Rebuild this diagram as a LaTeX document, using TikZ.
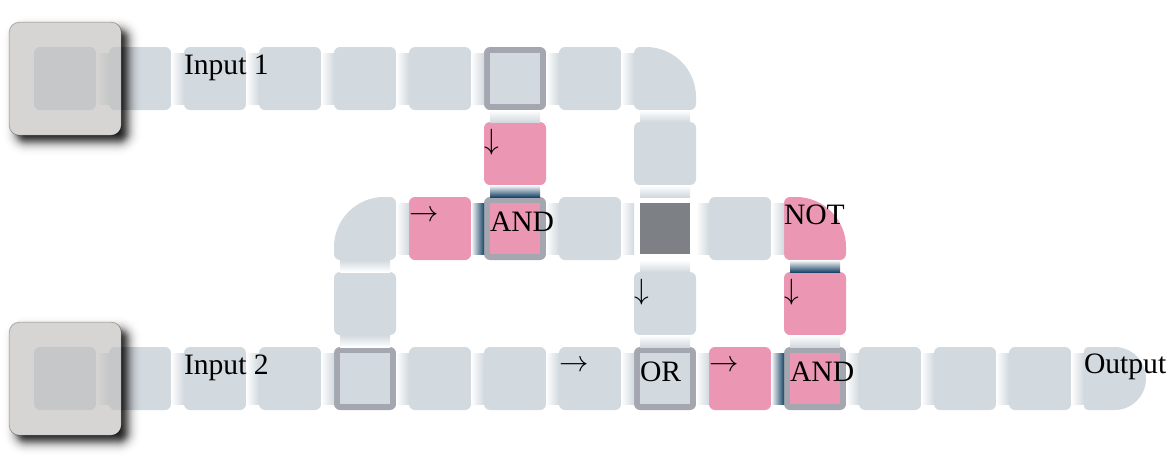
\documentclass[tikz,border=0pt]{standalone}
\usepackage{fontspec}
\usepackage{graphicx}
\setmainfont{Liberation Serif}
\usetikzlibrary{calc}
\definecolor{cellc}{RGB}{210,217,223}
\definecolor{pinkc}{RGB}{235,151,180}
\definecolor{ringc}{RGB}{164,167,175}
\definecolor{crossc}{RGB}{125,128,132}
\definecolor{navyc}{RGB}{26,70,105}
\definecolor{keyc}{RGB}{190,188,186}
\definecolor{keyedge}{RGB}{176,172,166}
\tikzset{
  slot/.style={rectangle,anchor=north west,inner sep=0pt,outer sep=0pt,minimum width=62pt,minimum height=63pt},
  plain/.style={slot,rounded corners=6pt,fill=cellc},
  pink/.style={slot,rounded corners=6pt,fill=pinkc},
  ring/.style={slot,rounded corners=6pt,fill=ringc},
  keycap/.style={rectangle,anchor=north west,inner sep=0pt,outer sep=0pt,minimum width=112pt,minimum height=113pt,rounded corners=10pt,draw=keyedge,line width=.8pt,fill=keyc,fill opacity=.62},
  lab/.style={anchor=base west,inner sep=0pt,outer sep=0pt,font=\fontsize{29.6}{34}\selectfont,text=black},
  arrowlab/.style={anchor=base west,inner sep=0pt,outer sep=0pt,font=\fontsize{24.88}{30}\selectfont,text=black}
}
\newcommand\linkR[3]{\shade[left color=white,right color=#3] ($(#1.east)+(0,-25.5)$) rectangle ($(#2.west)+(0,25.5)$);}
\newcommand\linkD[3]{\shade[top color=white,bottom color=#3] ($(#1.south)+(-25,0)$) rectangle ($(#2.north)+(25,0)$);}
\newcommand\linkU[3]{\shade[bottom color=white,top color=#3] ($(#1.north)+(-25,0)$) rectangle ($(#2.south)+(25,0)$);}
\newcommand\innerfill[2]{\fill[#2] ($(#1.north west)+(6,6)$) rectangle ($(#1.south east)+(-6,-6)$);}
\newcommand\keyshadow[1]{%
  \begin{scope}[even odd rule,rounded corners=10pt]
    \clip (0,0) rectangle (1176,456) (#1.north west) rectangle (#1.south east);
    \foreach \d in {14,13,...,-14}{%
      \pgfmathsetmacro\Ta{0.92/(1+exp(\d/3.2))}
      \pgfmathsetmacro\Tb{0.92/(1+exp((\d+1)/3.2))}
      \pgfmathsetmacro\al{1-(1-\Ta)/(1-\Tb)}
      \pgfmathsetmacro\rr{max(2,10+\d)}
      \fill[black,nonzero rule,fill opacity=\al,rounded corners=\rr pt] ($(#1.north west)+(7-\d,7-\d)$) rectangle ($(#1.south east)+(7+\d,7+\d)$);
    }
  \end{scope}}
\begin{document}
\begin{tikzpicture}[x=1pt,y=-1pt]
\useasboundingbox (0,0) rectangle (1176,456);
% cells
\foreach \c/\r/\s in {0/0/plain,1/0/plain,2/0/plain,3/0/plain,4/0/plain,5/0/plain,6/0/ring,7/0/plain,8/0/slot,
  6/1/pink,8/1/plain,
  4/2/slot,5/2/pink,6/2/ring,7/2/plain,8/2/slot,9/2/plain,10/2/slot,
  4/3/plain,8/3/plain,10/3/pink,
  0/4/plain,1/4/plain,2/4/plain,3/4/plain,4/4/ring,5/4/plain,6/4/plain,7/4/plain,8/4/ring,9/4/pink,10/4/ring,11/4/plain,12/4/plain,13/4/plain,14/4/slot}
  {\node[\s] (c\c-\r) at ({34+75*\c},{47+75*\r}) {};}
% shaped cells
\fill[cellc] ($(c8-0.north west)+(0,6)$) .. controls +(0,-3.3) and +(-3.3,0) .. ($(c8-0.north west)+(6,0)$) -- ($(c8-0.north east)+(-50,0)$) .. controls +(27.6,0) and ($(c8-0.north east)+(0,22.4)$) .. ($(c8-0.north east)+(0,50)$) -- ($(c8-0.south east)+(0,-6)$) .. controls +(0,3.3) and +(3.3,0) .. ($(c8-0.south east)+(-6,0)$) -- ($(c8-0.south west)+(6,0)$) .. controls +(-3.3,0) and +(0,3.3) .. ($(c8-0.south west)+(0,-6)$) -- cycle;
\fill[cellc] ($(c4-2.north east)+(-6,0)$) .. controls +(3.3,0) and +(0,-3.3) .. ($(c4-2.north east)+(0,6)$) -- ($(c4-2.south east)+(0,-6)$) .. controls +(0,3.3) and +(3.3,0) .. ($(c4-2.south east)+(-6,0)$) -- ($(c4-2.south west)+(6,0)$) .. controls +(-3.3,0) and +(0,3.3) .. ($(c4-2.south west)+(0,-6)$) -- ($(c4-2.north west)+(0,50)$) .. controls +(0,-27.6) and ($(c4-2.north west)+(22.4,0)$) .. ($(c4-2.north west)+(50,0)$) -- cycle;
\fill[pinkc] ($(c10-2.north west)+(0,6)$) .. controls +(0,-3.3) and +(-3.3,0) .. ($(c10-2.north west)+(6,0)$) -- ($(c10-2.north east)+(-50,0)$) .. controls +(27.6,0) and ($(c10-2.north east)+(0,22.4)$) .. ($(c10-2.north east)+(0,50)$) -- ($(c10-2.south east)+(0,-6)$) .. controls +(0,3.3) and +(3.3,0) .. ($(c10-2.south east)+(-6,0)$) -- ($(c10-2.south west)+(6,0)$) .. controls +(-3.3,0) and +(0,3.3) .. ($(c10-2.south west)+(0,-6)$) -- cycle;
\fill[cellc] ($(c14-4.north west)+(0,4)$) .. controls +(0,-2.2) and +(-2.2,0) .. ($(c14-4.north west)+(4,0)$) -- ($(c14-4.north east)+(-31.5,0)$) .. controls +(17.4,0) and ($(c14-4.east)+(0,-17.4)$) .. (c14-4.east) .. controls ($(c14-4.east)+(0,17.4)$) and ($(c14-4.south east)+(-14.1,0)$) .. ($(c14-4.south east)+(-31.5,0)$) -- ($(c14-4.south west)+(4,0)$) .. controls +(-2.2,0) and +(0,2.2) .. ($(c14-4.south west)+(0,-4)$) -- cycle;
% ring interiors and crossing
\innerfill{c6-0}{cellc}
\innerfill{c6-2}{pinkc}
\innerfill{c4-4}{cellc}
\innerfill{c8-4}{cellc}
\innerfill{c10-4}{pinkc}
\innerfill{c8-2}{crossc}
% connectors
\foreach \a/\b in {0/1,1/2,2/3,3/4,4/5,5/6,6/7,7/8}{\linkR{c\a-0}{c\b-0}{cellc}}
\foreach \a/\b in {4/5,6/7,7/8,8/9,9/10}{\linkR{c\a-2}{c\b-2}{cellc}}
\linkR{c5-2}{c6-2}{navyc}
\foreach \a/\b in {0/1,1/2,2/3,3/4,4/5,5/6,6/7,7/8,8/9,10/11,11/12,12/13,13/14}{\linkR{c\a-4}{c\b-4}{cellc}}
\linkR{c9-4}{c10-4}{navyc}
\linkD{c6-0}{c6-1}{cellc}
\linkD{c6-1}{c6-2}{navyc}
\linkD{c8-0}{c8-1}{cellc}
\linkD{c8-1}{c8-2}{cellc}
\linkD{c8-2}{c8-3}{cellc}
\linkD{c8-3}{c8-4}{cellc}
\linkD{c10-2}{c10-3}{navyc}
\linkD{c10-3}{c10-4}{cellc}
\linkU{c4-3}{c4-2}{cellc}
\linkU{c4-4}{c4-3}{cellc}
% labels
\node[lab] (t1) at (184,74) {Input 1};
\node[lab] (t2) at (184,374) {Input 2};
\node[lab] (t3) at (490,231) {AND};
\node[lab] (t4) at (784,224) {NOT};
\node[lab] (t5) at (640,381) {OR};
\node[lab] (t6) at (790,381) {AND};
\node[lab] (t7) at (1084,373) {Output};
\node[arrowlab] (a1) at (409,221.3) {\scalebox{1.18}{$\rightarrow$}};
\node[arrowlab] (a2) at (559,371.3) {\scalebox{1.18}{$\rightarrow$}};
\node[arrowlab] (a3) at (709,371.3) {\scalebox{1.18}{$\rightarrow$}};
\node[arrowlab] (a4) at (484,149.3) {\scalebox{1.18}{$\downarrow$}};
\node[arrowlab] (a5) at (634,299.3) {\scalebox{1.18}{$\downarrow$}};
\node[arrowlab] (a6) at (784,299.3) {\scalebox{1.18}{$\downarrow$}};
% key caps
\node[keycap] (k1) at (9.3,22.3) {};
\node[keycap] (k2) at (9.3,322.3) {};
\keyshadow{k1}
\keyshadow{k2}
\end{tikzpicture}
\end{document}
